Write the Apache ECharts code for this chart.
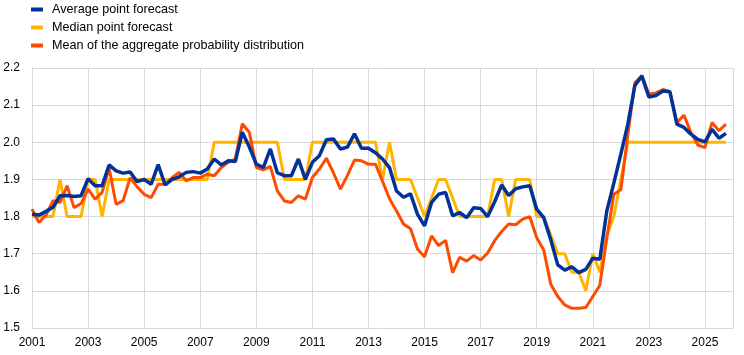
<!DOCTYPE html>
<html>
<head>
<meta charset="utf-8">
<script src="https://cdn.jsdelivr.net/npm/echarts@6/dist/echarts.min.js"></script>
<style>
html,body{margin:0;padding:0;background:#fff;}
#chart{width:744px;height:355px;}
</style>
</head>
<body>
<div id="chart"></div>
<script>
// Quarterly observations 2001Q1 .. 2025Q4
const startYear = 2001;
const yTicks = [1.5, 1.6, 1.7, 1.8, 1.9, 2.0, 2.1, 2.2];
const xTickYears = [2001, 2003, 2005, 2007, 2009, 2011, 2013, 2015, 2017, 2019, 2021, 2023, 2025];

const averagePointForecast = [
  1.806, 1.804, 1.814, 1.825,
  1.856, 1.857, 1.854, 1.856,
  1.902, 1.883, 1.883, 1.939,
  1.923, 1.917, 1.920, 1.894,
  1.900, 1.887, 1.940, 1.885,
  1.900, 1.907, 1.919, 1.921,
  1.917, 1.928, 1.955, 1.939,
  1.950, 1.948, 2.027, 1.987,
  1.941, 1.932, 1.982, 1.918,
  1.910, 1.910, 1.955, 1.900,
  1.946, 1.964, 2.007, 2.009,
  1.982, 1.987, 2.023, 1.984,
  1.984, 1.972, 1.955, 1.932,
  1.869, 1.852, 1.861, 1.806,
  1.775, 1.838, 1.860, 1.865,
  1.802, 1.811, 1.797, 1.824,
  1.822, 1.800, 1.840, 1.885,
  1.857, 1.875, 1.880, 1.883,
  1.820, 1.797, 1.738, 1.670,
  1.656, 1.665, 1.649, 1.658,
  1.688, 1.685, 1.815, 1.890,
  1.968, 2.049, 2.153, 2.178,
  2.122, 2.126, 2.138, 2.136,
  2.049, 2.040, 2.022, 2.008,
  2.001, 2.035, 2.011, 2.024
];

const medianPointForecast = [
  1.80, 1.80, 1.80, 1.80,
  1.90, 1.80, 1.80, 1.80,
  1.90, 1.90, 1.80, 1.90,
  1.90, 1.90, 1.90, 1.90,
  1.90, 1.90, 1.90, 1.90,
  1.90, 1.90, 1.90, 1.90,
  1.90, 1.90, 2.00, 2.00,
  2.00, 2.00, 2.00, 2.00,
  2.00, 2.00, 2.00, 2.00,
  1.90, 1.90, 1.90, 1.90,
  2.00, 2.00, 2.00, 2.00,
  2.00, 2.00, 2.00, 2.00,
  2.00, 2.00, 1.90, 2.00,
  1.90, 1.90, 1.90, 1.85,
  1.80, 1.85, 1.90, 1.90,
  1.85, 1.80, 1.80, 1.80,
  1.80, 1.80, 1.90, 1.90,
  1.80, 1.90, 1.90, 1.90,
  1.80, 1.80, 1.75, 1.70,
  1.70, 1.65, 1.65, 1.60,
  1.70, 1.65, 1.75, 1.80,
  1.90, 2.00, 2.00, 2.00,
  2.00, 2.00, 2.00, 2.00,
  2.00, 2.00, 2.00, 2.00,
  2.00, 2.00, 2.00, 2.00
];

const meanAggregateDistribution = [
  1.820, 1.784, 1.804, 1.843,
  1.838, 1.883, 1.824, 1.835,
  1.874, 1.847, 1.865, 1.930,
  1.833, 1.843, 1.905, 1.880,
  1.860, 1.851, 1.887, 1.887,
  1.905, 1.919, 1.896, 1.905,
  1.905, 1.914, 1.910, 1.932,
  1.946, 1.955, 2.050, 2.027,
  1.932, 1.926, 1.935, 1.869,
  1.842, 1.838, 1.856, 1.847,
  1.905, 1.928, 1.957, 1.918,
  1.874, 1.911, 1.952, 1.950,
  1.941, 1.941, 1.895, 1.848,
  1.815, 1.780, 1.767, 1.712,
  1.692, 1.748, 1.722, 1.736,
  1.649, 1.690, 1.680, 1.695,
  1.683, 1.702, 1.735, 1.760,
  1.780, 1.778, 1.793, 1.800,
  1.743, 1.710, 1.618, 1.585,
  1.562, 1.553, 1.553, 1.555,
  1.585, 1.615, 1.742, 1.860,
  1.872, 2.020, 2.160, 2.180,
  2.130, 2.133, 2.142, 2.136,
  2.053, 2.073, 2.026, 1.992,
  1.986, 2.053, 2.031, 2.049
];

const seriesNames = [
  'Average point forecast',
  'Median point forecast',
  'Mean of the aggregate probability distribution'
];
const seriesColors = ['#003299', '#FFB400', '#FF4B00'];

function toPairs(arr) {
  // x = years elapsed since start (quarter q -> q/4)
  return arr.map((v, i) => [i / 4, v]);
}

const chart = echarts.init(document.getElementById('chart'), null, {renderer: 'canvas'});
const font = '"Liberation Sans", Arial, sans-serif';

chart.setOption({
  animation: false,
  backgroundColor: '#ffffff',
  textStyle: {fontFamily: font},
  legend: {
    orient: 'vertical',
    left: 31,
    top: 3,
    padding: 0,
    itemWidth: 12,
    itemHeight: 4,
    itemGap: 5,
    icon: 'rect',
    data: seriesNames,
    textStyle: {fontFamily: font, fontSize: 12.6, color: '#000', padding: [0, 0, 0, 4]}
  },
  grid: {left: 32, right: 11, top: 68, bottom: 27, containLabel: false},
  xAxis: {
    type: 'value',
    min: 0,
    max: 25,
    interval: 2,
    axisLine: {show: true, lineStyle: {color: '#d9d9d9', width: 1}},
    axisTick: {show: false},
    splitLine: {show: true, lineStyle: {color: '#d9d9d9', width: 1}},
    axisLabel: {
      color: '#000',
      fontSize: 12,
      fontFamily: font,
      margin: 9,
      formatter: function (v) {
        const yr = Math.round(v + startYear);
        return xTickYears.indexOf(yr) >= 0 ? String(yr) : '';
      }
    }
  },
  yAxis: {
    type: 'value',
    min: yTicks[0],
    max: yTicks[yTicks.length - 1],
    interval: 0.1,
    axisLine: {show: true, lineStyle: {color: '#d9d9d9', width: 1}},
    axisTick: {show: false},
    splitLine: {show: true, lineStyle: {color: '#d9d9d9', width: 1}},
    axisLabel: {
      color: '#000',
      fontSize: 12,
      fontFamily: font,
      margin: 12,
      formatter: function (v) { return v.toFixed(1); }
    }
  },
  series: [
    {
      name: seriesNames[1],
      type: 'line',
      data: toPairs(medianPointForecast),
      symbol: 'none',
      z: 2,
      itemStyle: {color: seriesColors[1]},
      lineStyle: {color: seriesColors[1], width: 3}
    },
    {
      name: seriesNames[2],
      type: 'line',
      data: toPairs(meanAggregateDistribution),
      symbol: 'none',
      z: 3,
      itemStyle: {color: seriesColors[2]},
      lineStyle: {color: seriesColors[2], width: 3}
    },
    {
      name: seriesNames[0],
      type: 'line',
      data: toPairs(averagePointForecast),
      symbol: 'none',
      z: 4,
      itemStyle: {color: seriesColors[0]},
      lineStyle: {color: seriesColors[0], width: 3.5}
    }
  ]
});
</script>
</body>
</html>
